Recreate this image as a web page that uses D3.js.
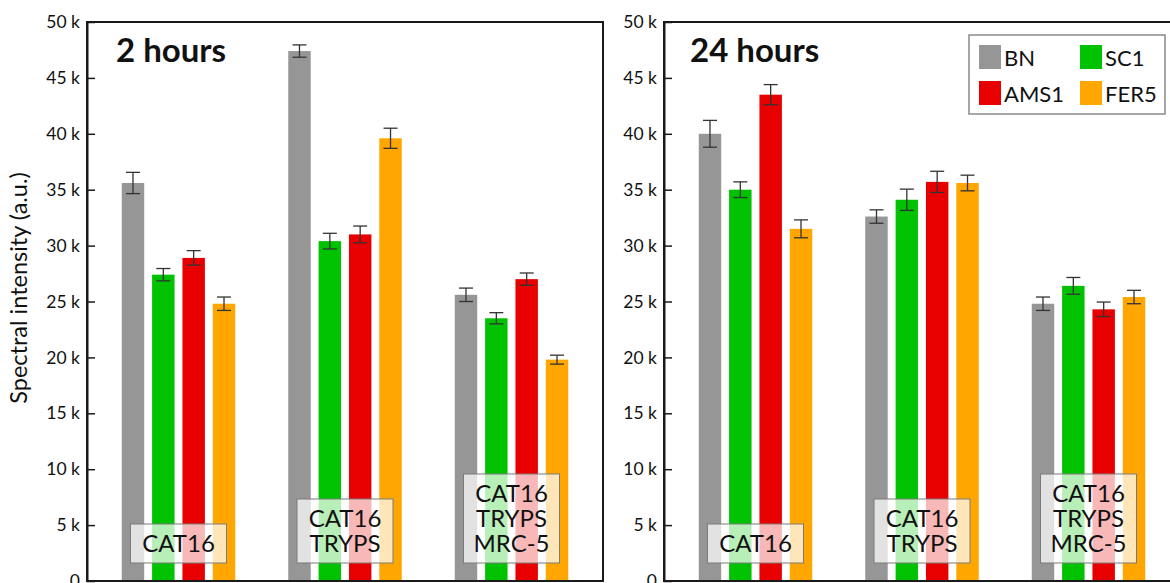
<!DOCTYPE html>
<html>
<head>
<meta charset="utf-8">
<script src="https://cdn.jsdelivr.net/npm/d3@7"></script>
<style>
  body { margin: 0; background: #fff; }
  text { font-family: Lato, "Open Sans", sans-serif; fill: #111; }
</style>
</head>
<body>
<div class="chart"></div>
<script>
// series + groups
var series = ["BN", "SC1", "AMS1", "FER5"];
var colors = ["#969696", "#00c200", "#e80000", "#ffa600"];
var groups = [["CAT16"], ["CAT16", "TRYPS"], ["CAT16", "TRYPS", "MRC-5"]];
var panelTitles = ["2 hours", "24 hours"];
var yTicks = [0, 5000, 10000, 15000, 20000, 25000, 30000, 35000, 40000, 45000, 50000];

// values (a.u.), one row per group
var values2h = [
  [35600, 27400, 28900, 24800],
  [47400, 30400, 31000, 39600],
  [25600, 23500, 27000, 19800]
];
var errors2h = [
  [950, 550, 650, 600],
  [550, 700, 750, 900],
  [600, 500, 550, 400]
];
var values24h = [
  [40000, 35000, 43500, 31500],
  [32600, 34100, 35700, 35600],
  [24800, 26400, 24300, 25400]
];
var errors24h = [
  [1200, 700, 900, 800],
  [600, 950, 950, 700],
  [600, 750, 650, 600]
];

var width = 1170, height = 583;
var svg = d3.select(".chart").append("svg")
    .attr("width", width)
    .attr("height", height);

var panelW = 516, plotTop = 22, plotBottom = 581;
var panelX = [87, 664];

var y = d3.scaleLinear().domain([0, 50000]).range([plotBottom, plotTop]);

var x0 = d3.scaleBand().domain(d3.range(groups.length))
    .range([0, panelW]).paddingInner(0.271).paddingOuter(0.185);
var x1 = d3.scaleBand().domain(series)
    .range([0, x0.bandwidth()]).paddingInner(0.26).paddingOuter(0.13);

function drawPanel(p, vals, errs) {
  var g = svg.append("g").attr("transform", "translate(" + panelX[p] + ",0)");

  var grp = g.selectAll(".grp")
      .data(vals)
      .enter().append("g")
      .attr("class", "grp")
      .attr("transform", function(d, i) { return "translate(" + x0(i) + ",0)"; });

  grp.selectAll("rect")
      .data(function(d) { return d; })
      .enter().append("rect")
      .attr("x", function(d, i) { return x1(series[i]); })
      .attr("y", function(d) { return y(d); })
      .attr("width", x1.bandwidth())
      .attr("height", function(d) { return y(0) - y(d); })
      .attr("fill", function(d, i) { return colors[i]; });

  // error bars
  grp.each(function(row, gi) {
    var eg = d3.select(this).selectAll(".err")
        .data(row)
        .enter().append("g")
        .attr("class", "err")
        .attr("stroke", "#333")
        .attr("stroke-width", 1.3);
    var cx = function(d, i) { return x1(series[i]) + x1.bandwidth() / 2; };
    eg.append("line")
        .attr("x1", cx).attr("x2", cx)
        .attr("y1", function(d, i) { return y(d - errs[gi][i]); })
        .attr("y2", function(d, i) { return y(d + errs[gi][i]); });
    eg.append("line")
        .attr("x1", function(d, i) { return cx(d, i) - 7; })
        .attr("x2", function(d, i) { return cx(d, i) + 7; })
        .attr("y1", function(d, i) { return y(d + errs[gi][i]); })
        .attr("y2", function(d, i) { return y(d + errs[gi][i]); });
    eg.append("line")
        .attr("x1", function(d, i) { return cx(d, i) - 7; })
        .attr("x2", function(d, i) { return cx(d, i) + 7; })
        .attr("y1", function(d, i) { return y(d - errs[gi][i]); })
        .attr("y2", function(d, i) { return y(d - errs[gi][i]); });
  });

  // group label boxes
  var lab = g.selectAll(".lab")
      .data(groups)
      .enter().append("g")
      .attr("class", "lab")
      .attr("transform", function(d, i) { return "translate(" + (x0(i) + x0.bandwidth() / 2) + ",0)"; });
  lab.append("rect")
      .attr("x", -48)
      .attr("width", 96)
      .attr("y", function(d) { return 563 - (25 * d.length + 14); })
      .attr("height", function(d) { return 25 * d.length + 14; })
      .attr("fill", "rgba(255,255,255,0.72)")
      .attr("stroke", "#7a7a7a")
      .attr("stroke-width", 1);
  lab.selectAll("text")
      .data(function(d) { return d.map(function(t, i) { return {t: t, k: d.length - 1 - i}; }); })
      .enter().append("text")
      .attr("text-anchor", "middle")
      .attr("y", function(d) { return 552 - 25 * d.k; })
      .style("font-size", "24px")
      .text(function(d) { return d.t; });

  // frame
  g.append("rect")
      .attr("x", 0).attr("y", plotTop)
      .attr("width", panelW).attr("height", plotBottom - plotTop)
      .attr("fill", "none")
      .attr("stroke", "#1a1a1a")
      .attr("stroke-width", 2);

  // y axis, ticks pointing inward
  var axis = g.append("g")
      .call(d3.axisLeft(y)
        .tickValues(yTicks)
        .tickSizeInner(-8)
        .tickSizeOuter(0)
        .tickPadding(7)
        .tickFormat(function(d) { return d === 0 ? "0" : (d / 1000) + " k"; }));
  axis.select(".domain").attr("stroke", "#1a1a1a").attr("stroke-width", 2);
  axis.selectAll(".tick line").attr("stroke", "#1a1a1a").attr("stroke-width", 1.5);
  axis.selectAll(".tick text")
      .style("font-family", "Lato, sans-serif")
      .style("font-size", "17.5px")
      .attr("fill", "#111");

  g.append("text")
      .attr("x", p === 0 ? 29 : 26)
      .attr("y", 62)
      .style("font-size", "33px")
      .style("font-weight", "bold")
      .text(panelTitles[p]);
}

drawPanel(0, values2h, errors2h);
drawPanel(1, values24h, errors24h);

// y label
svg.append("text")
    .attr("transform", "translate(27,288) rotate(-90)")
    .attr("text-anchor", "middle")
    .style("font-size", "23.5px")
    .text("Spectral intensity (a.u.)");

// legend
var legend = svg.append("g").attr("transform", "translate(969,35)");
legend.append("rect")
    .attr("width", 196).attr("height", 79)
    .attr("fill", "#fff")
    .attr("stroke", "#8a8a8a")
    .attr("stroke-width", 1.5);
var li = legend.selectAll(".li")
    .data(series)
    .enter().append("g")
    .attr("class", "li")
    .attr("transform", function(d, i) { return "translate(" + (10 + (i % 2) * 101) + "," + (10 + Math.floor(i / 2) * 36) + ")"; });
li.append("rect")
    .attr("width", 22).attr("height", 24)
    .attr("fill", function(d, i) { return colors[i]; });
li.append("text")
    .attr("x", 25).attr("y", 21)
    .style("font-size", "22px")
    .text(function(d) { return d; });
</script>
</body>
</html>
